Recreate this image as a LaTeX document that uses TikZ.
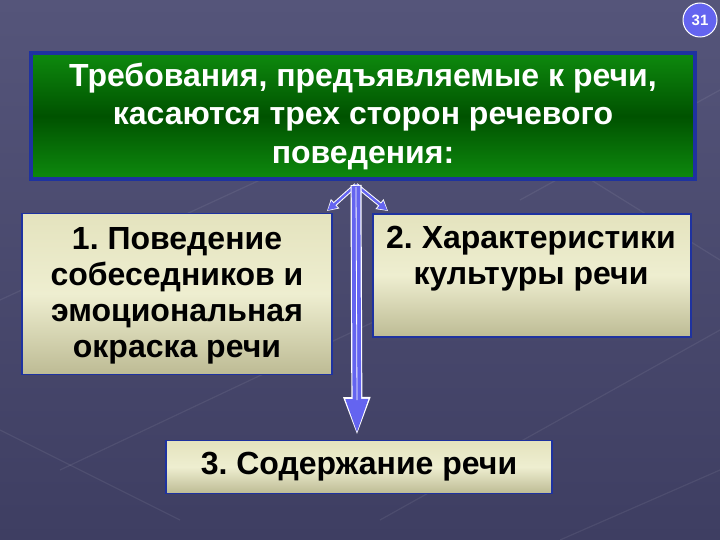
\documentclass[tikz,border=0pt]{standalone}
\usepackage{fontspec}
\setmainfont{Liberation Sans}
\usetikzlibrary{arrows.meta}
\definecolor{bgtop}{HTML}{55557A}
\definecolor{bgbot}{HTML}{3E3E62}
\definecolor{bline}{HTML}{1E32A0}
\definecolor{arrowblue}{HTML}{6464F0}
\definecolor{khakibot}{HTML}{BDBB94}
\definecolor{khakimid}{HTML}{EEEED0}
\definecolor{khakitop}{HTML}{E4E3BE}
\definecolor{greenlt}{HTML}{0E8A0E}
\definecolor{greendk}{HTML}{005200}
\tikzset{
  greenbox/.style={draw=bline, line width=3.5pt, top color=greenlt, bottom color=greenlt, middle color=greendk,
    minimum width=664pt, minimum height=126pt, text=white, align=center, font=\bfseries\fontsize{32}{38.5}\selectfont, inner sep=0pt},
  khakibox/.style={draw=bline, line width=1.8pt, top color=khakitop, bottom color=khakibot, middle color=khakimid,
    align=center, font=\bfseries\fontsize{32}{36}\selectfont, text=black, inner sep=0pt},
  outarrow/.style={white, line width=1.2pt},
}
\begin{document}
\frenchspacing
\begin{tikzpicture}[x=1pt,y=-1pt]
\useasboundingbox (0,0) rectangle (720,540);
\shade[top color=bgtop, bottom color=bgbot] (0,0) rectangle (720,540);
% faint texture lines
\begin{scope}[draw=white, opacity=0.07, line width=1.2pt]
\draw (0,300) -- (260,180);
\draw (60,470) -- (420,300);
\draw (380,520) -- (720,330);
\draw (520,200) -- (720,90);
\draw (0,430) -- (180,520);
\draw (430,80) -- (720,260);
\draw (560,540) -- (720,470);
\end{scope}
% page number
\node[circle, fill=arrowblue, draw=white, line width=1pt, minimum size=34pt, inner sep=0pt, text=white, font=\bfseries\fontsize{15}{15}\selectfont] (num) at (700,20) {31};
% boxes
\node[greenbox] (top) at (363,116) {Требования, предъявляемые к речи,\\касаются трех сторон речевого\\поведения:};
\node[khakibox, minimum width=310pt, minimum height=161pt] (b1) at (177,294) {};
\node[font=\bfseries\fontsize{32}{36}\selectfont, align=center] (b1t) at (177,296) {1. Поведение\\собеседников и\\эмоциональная\\окраска речи};
\node[khakibox, minimum width=318pt, minimum height=123pt, anchor=north west] (b2) at (372,213) {};
\node[font=\bfseries\fontsize{32}{36}\selectfont, align=center] (b2t) at (531,259) {2. Характеристики\\культуры речи};
\node[khakibox, minimum width=386pt, minimum height=53pt] (b3) at (359,467) {3. Содержание речи};
% arrows
\coordinate (apex) at (356,185);
\coordinate (e1) at (327,211);
\coordinate (e2) at (388,211);
\coordinate (e3) at (357,437);
\coordinate (shaftend) at (357,400);
\draw[outarrow, line width=4.4pt, -{Triangle[length=11pt,width=12pt]}] (apex) -- (e1);
\draw[arrowblue, line width=2.4pt, shorten >=1pt, -{Triangle[length=9pt,width=9pt]}] (apex) -- (e1);
\draw[outarrow, line width=4.4pt, -{Triangle[length=11pt,width=12pt]}] (apex) -- (e2);
\draw[arrowblue, line width=2.4pt, shorten >=1pt, -{Triangle[length=9pt,width=9pt]}] (apex) -- (e2);
\draw[white, line width=11pt, -{Triangle[length=40pt,width=24pt]}] (apex) -- (e3);
\draw[arrowblue, line width=8.6pt, shorten >=2pt, -{Triangle[length=36pt,width=20pt]}] ([yshift=-1pt]apex) -- (e3);
\draw[white, line width=0.8pt] ([yshift=-2pt]apex) -- (shaftend);
\end{tikzpicture}
\end{document}
